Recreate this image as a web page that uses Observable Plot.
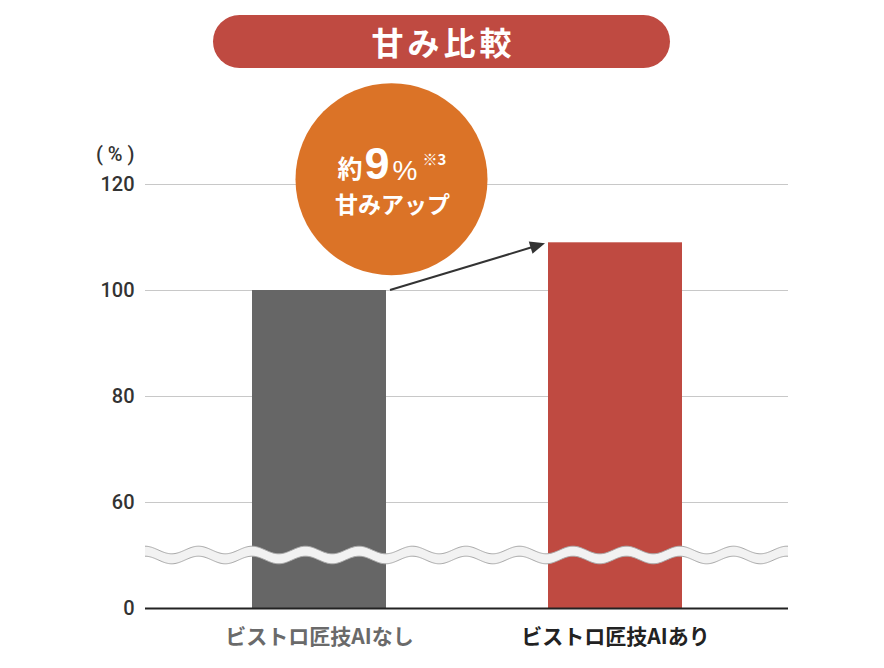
<!DOCTYPE html>
<html><head><meta charset="utf-8">
<script src="https://cdn.jsdelivr.net/npm/d3@7"></script>
<script src="https://cdn.jsdelivr.net/npm/@observablehq/plot@0.6"></script>
<style>
body{margin:0;background:#fff;font-family:"Noto Sans CJK JP","Noto Sans",sans-serif;}
#wrap{position:relative;width:884px;height:668px;overflow:hidden;}
#title{position:absolute;left:213px;top:15px;width:457px;height:53px;border-radius:27px;background:#bf4a41;color:#fff;font-weight:700;font-size:32px;line-height:53px;text-align:center;letter-spacing:4px;text-indent:4px;}
#chart{position:absolute;left:0;top:80px;}
#chart svg g[aria-label^="y-axis"] text{font-family:Roboto,"Liberation Sans",sans-serif;font-size:20px;font-weight:500;fill:#333;}
</style></head>
<body><div id="wrap"><div id="title">甘み比較</div><div id="chart"></div></div>
<script>
// ---- data ----
const categories = ["ビストロ匠技AIなし", "ビストロ匠技AIあり"];
const values = [100, 109];
const barColors = ["#666666", "#bf4a41"];
const labelColors = ["#6a6a6a", "#222222"];
const yTickValues = [40, 60, 80, 100, 120];   // 40 = position of "0" after the axis break
const yTickLabels = ["0", "60", "80", "100", "120"];
const gridValues = [60, 80, 100, 120];
const breakFloor = 40;
const breakAt = 50;
const unitLabel = "( % )";
const calloutPrefix = "約";
const calloutNumber = "9";
const calloutPercent = "%";
const calloutNote = "※3";
const calloutLine2 = "甘みアップ";
const calloutY = 121;

const data = categories.map((c, i) => ({cat: c, value: values[i], fill: barColors[i], label: labelColors[i]}));
const anchor = [{x: categories[0], y: calloutY}];
const cdx = 72;
const FONT = "'Noto Sans CJK JP','Noto Sans',sans-serif";
const NUMFONT = "'Liberation Sans','Noto Sans CJK JP',sans-serif";

function breakMark(index, scales, vals, dims) {
  const yc = scales.y(breakAt);
  const x0 = dims.marginLeft, x1 = dims.width - dims.marginRight;
  const amp = 3.8, half = 5, wl = 53.5, n = 600;
  const xs = d3.range(n + 1).map(i => x0 + (x1 - x0) * i / n);
  const f = x => yc - amp * Math.cos(2 * Math.PI * (x - x0) / wl);
  const top = xs.map(x => [x, f(x) - half]);
  const bot = xs.map(x => [x, f(x) + half]);
  const g = d3.create("svg:g");
  g.append("path").attr("d", d3.line()(top.concat(bot.slice().reverse())) + "Z").attr("fill", "#f2f2f2");
  g.append("path").attr("d", d3.line()(top)).attr("fill", "none").attr("stroke", "#a8a8a8").attr("stroke-width", 1);
  g.append("path").attr("d", d3.line()(bot)).attr("fill", "none").attr("stroke", "#a8a8a8").attr("stroke-width", 1);
  return g.node();
}

function arrowMark(index, scales) {
  const x = scales.x, y = scales.y;
  const bw = typeof x.bandwidth === "function" ? x.bandwidth() : 0;
  const x1 = x(categories[0]) + bw + 4, y1 = y(values[0]);
  const x2 = x(categories[1]) - 3, y2 = y(values[1]) + 1;
  const ang = Math.atan2(y2 - y1, x2 - x1);
  const L = 15, W = 6.5;
  const bx = x2 - L * Math.cos(ang), by = y2 - L * Math.sin(ang);
  const px = -Math.sin(ang) * W, py = Math.cos(ang) * W;
  const g = d3.create("svg:g");
  g.append("line").attr("x1", x1).attr("y1", y1).attr("x2", bx + 2 * Math.cos(ang)).attr("y2", by + 2 * Math.sin(ang))
    .attr("stroke", "#333").attr("stroke-width", 2);
  g.append("path").attr("d", `M${x2},${y2}L${bx + px},${by + py}L${bx - px},${by - py}Z`).attr("fill", "#333");
  return g.node();
}

const plot = Plot.plot({
  width: 884,
  height: 588,
  marginTop: 104,
  marginBottom: 60,
  marginLeft: 145,
  marginRight: 96,
  style: {fontFamily: NUMFONT, fontSize: "20px", color: "#333", background: "transparent", overflow: "visible"},
  x: {domain: categories, range: [252, 682], paddingInner: 0.5473, paddingOuter: 0, axis: null},
  y: {domain: [40, 120], ticks: yTickValues, tickFormat: d => yTickLabels[yTickValues.indexOf(d)], tickSize: 0, tickPadding: 11, label: null},
  color: {type: "identity"},
  marks: [
    Plot.ruleY(gridValues, {stroke: "#c8c8c8", strokeWidth: 1.2}),
    Plot.barY(data, {x: "cat", y1: breakFloor, y2: "value", fill: "fill"}),
    breakMark,
    Plot.ruleY([breakFloor], {stroke: "#222", strokeWidth: 2}),
    Plot.dot(anchor, {x: "x", y: "y", dx: cdx, r: 96, fill: "#db7327"}),
    Plot.text(anchor, {x: "x", y: "y", dx: cdx - 54, dy: -9, text: () => calloutPrefix, textAnchor: "start", fontSize: 25, fontWeight: 700, fill: "#fff", fontFamily: FONT}),
    Plot.text(anchor, {x: "x", y: "y", dx: cdx - 27, dy: -15, text: () => calloutNumber, textAnchor: "start", fontSize: 45, fontWeight: 700, fill: "#fff", fontFamily: NUMFONT}),
    Plot.text(anchor, {x: "x", y: "y", dx: cdx + 1, dy: -8, text: () => calloutPercent, textAnchor: "start", fontSize: 28, fontWeight: 400, fill: "#fff", fontFamily: NUMFONT}),
    Plot.text(anchor, {x: "x", y: "y", dx: cdx + 31, dy: -19, text: () => calloutNote, textAnchor: "start", fontSize: 15, fontWeight: 700, fill: "#fff", fontFamily: FONT}),
    Plot.text(anchor, {x: "x", y: "y", dx: cdx + 1, dy: 26, text: () => calloutLine2, textAnchor: "middle", fontSize: 23, fontWeight: 700, fill: "#fff", fontFamily: FONT}),
    arrowMark,
    Plot.text(data, {x: "cat", y: breakFloor, dy: 29, text: "cat", fill: "label", fontSize: 21, fontWeight: 700, fontFamily: FONT}),
    Plot.text([unitLabel], {frameAnchor: "top-left", dx: -11, dy: -38, text: d => d, textAnchor: "end", fontSize: 20, fontWeight: 500, fill: "#333", fontFamily: "Roboto,'Liberation Sans',sans-serif"})
  ]
});
document.getElementById("chart").appendChild(plot);
</script>
</body></html>
